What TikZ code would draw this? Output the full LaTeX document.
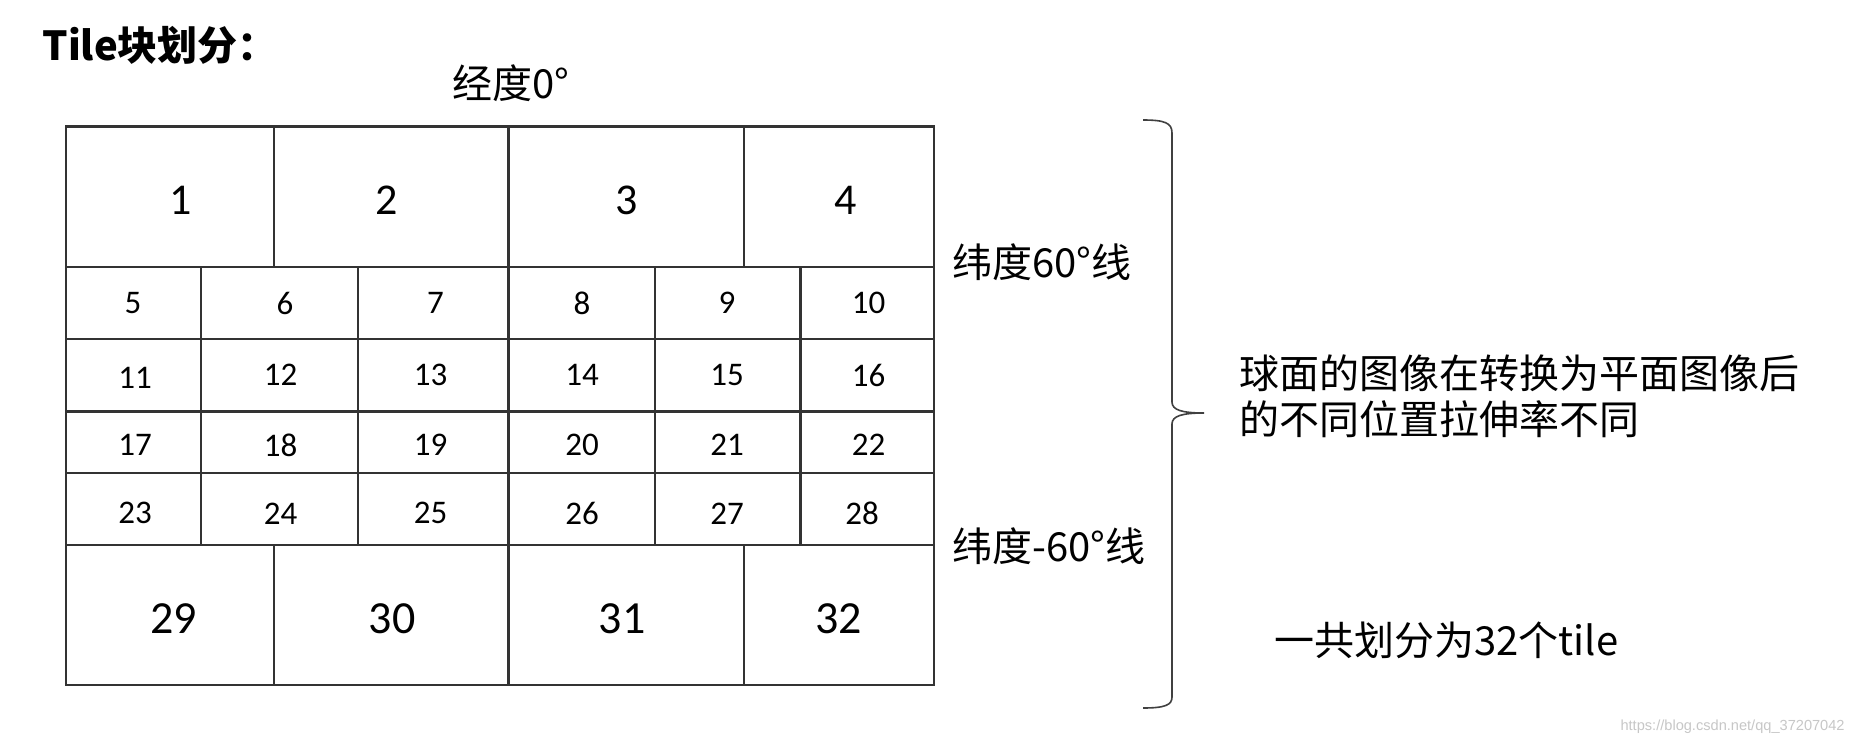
\documentclass[tikz,border=0pt]{standalone}
\usepackage{fontspec}
\newfontfamily\cjk{Noto Sans CJK SC}
\newfontfamily\num{Carlito}
\newfontfamily\wm{Liberation Sans}
\begin{document}
\begin{tikzpicture}[x=0.5pt,y=-0.5pt,
  gridline/.style={draw=black!80,line width=1.1pt},
  bignum/.style={inner sep=0pt,font=\num\fontsize{22pt}{26pt}\selectfont},
  lownum/.style={inner sep=0pt,font=\num\fontsize{23pt}{27pt}\selectfont},
  smallnum/.style={inner sep=0pt,font=\num\fontsize{16.5pt}{20pt}\selectfont},
  label/.style={inner sep=0pt,font=\cjk\fontsize{20pt}{24pt}\selectfont},
  bracestyle/.style={draw=black!75,line width=0.8pt}]
\useasboundingbox[fill=white] (0,0) rectangle (1854,745);
% grid
\draw[gridline] (66,126.5) rectangle (934,684.6);
\foreach \yy in {267.2,339.3,411.5,473,545}{\draw[gridline] (66,\yy) -- (934,\yy);}
\foreach \xx in {274,508.5,744}{\draw[gridline] (\xx,126.5) -- (\xx,267.2); \draw[gridline] (\xx,545) -- (\xx,684.6);}
\foreach \xx in {201,358.3,508.5,655,800.5}{\draw[gridline] (\xx,267.2) -- (\xx,545);}
% numbers
\node[bignum] (n1) at (180.5,200) {1};
\node[bignum] (n2) at (386.5,200) {2};
\node[bignum] (n3) at (627,200) {3};
\node[bignum] (n4) at (845.7,200) {4};
\foreach \n/\xx in {5/133,6/285,7/435.6,8/582,9/727,10/868.6}{\node[smallnum] (n\n) at (\xx,303) {\n};}
\node[smallnum] (n11) at (135,378) {11};
\foreach \n/\xx in {12/280.6,13/430.5,14/582,15/727,16/868.6}{\node[smallnum] (n\n) at (\xx,375) {\n};}
\foreach \n/\xx in {17/135,18/280.6,19/430.5,20/582,21/727,22/868.6}{\node[smallnum] (n\n) at (\xx,445) {\n};}
\foreach \n/\xx in {23/135,24/280.6,25/430.5,26/582,27/727,28/862}{\node[smallnum] (n\n) at (\xx,513.3) {\n};}
\node[lownum] (n29) at (173.5,618.3) {29};
\node[lownum] (n30) at (392,618.3) {30};
\node[lownum] (n31) at (622,618.3) {31};
\node[lownum] (n32) at (838.6,618.3) {32};
% labels
\node[inner sep=0pt,anchor=west,font=\cjk\bfseries\fontsize{20pt}{24pt}\selectfont] (title) at (42,45) {Tile块划分：};
\node[label] (lon) at (511,83) {经度0°};
\node[label,anchor=west] (lat1) at (952,262) {纬度60°线};
\node[label,anchor=west] (lat2) at (952,546.5) {纬度-60°线};
\node[label,anchor=west] (p1) at (1239,373) {球面的图像在转换为平面图像后};
\node[label,anchor=west] (p2) at (1239,419) {的不同位置拉伸率不同};
\node[label,anchor=west] (tot) at (1274,640) {一共划分为32个tile};
\node[inner sep=0pt,anchor=east,text=black!22,font=\wm\fontsize{7.3pt}{9pt}\selectfont] (wmk) at (1845,727) {https://blog.csdn.net/qq\_37207042};
% brace
\draw[bracestyle] (1143,120) .. controls (1165,120) and (1172,123) .. (1172,133) -- (1172,402)
  .. controls (1172,410) and (1182,413) .. (1204,413)
  .. controls (1182,413) and (1172,416) .. (1172,424) -- (1172,697)
  .. controls (1172,705) and (1165,708) .. (1143,708);
\end{tikzpicture}
\end{document}
